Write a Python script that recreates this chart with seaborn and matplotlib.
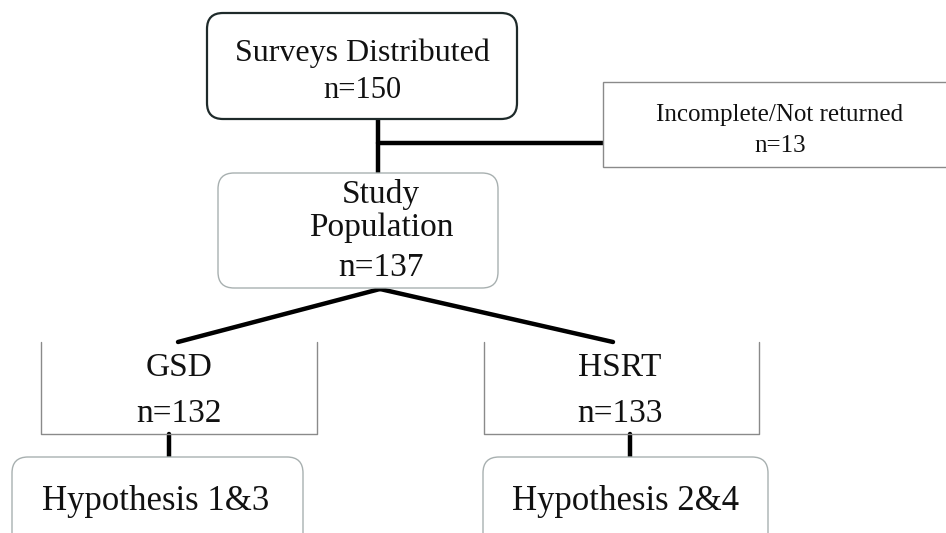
import matplotlib.pyplot as plt
import seaborn as sns
import pandas as pd
from matplotlib.patches import FancyBboxPatch

# node texts
node_names = ['surveys', 'incomplete', 'study', 'gsd', 'hsrt', 'hyp13', 'hyp24']
node_titles = ['Surveys Distributed', 'Incomplete/Not returned', 'Study\nPopulation',
               'GSD', 'HSRT', 'Hypothesis 1&3', 'Hypothesis 2&4']
node_counts = [150, 13, 137, 132, 133, None, None]

# layout (pixel coords, y down): x0, y0, x1, y1, kind
layout = {
    'surveys':    (207, 13, 517, 119, 'round_dark'),
    'incomplete': (603, 82, 960, 167, 'rect'),
    'study':      (218, 173, 498, 288, 'round'),
    'gsd':        (41, 342, 317, 434, 'open'),
    'hsrt':       (484, 342, 759, 434, 'open'),
    'hyp13':      (12, 457, 303, 560, 'round'),
    'hyp24':      (483, 457, 768, 560, 'round'),
}
# text positions: title y, count y, x, title size, count size
text_pos = {
    'surveys':    (53, 91, 362, 23, 22),
    'incomplete': (115, 146, 780, 18, 18),
    'study':      (211, 268, 381, 24, 24),
    'gsd':        (368, 414, 179, 24, 24),
    'hsrt':       (368, 414, 620, 24, 24),
    'hyp13':      (502, None, 156, 25, 25),
    'hyp24':      (502, None, 625, 25, 25),
}

# connectors
edges = pd.DataFrame({
    'edge': ['a', 'a', 'b', 'b', 'c', 'c', 'd', 'd', 'e', 'e', 'f', 'f'],
    'x': [378, 378, 378, 603, 380, 178, 380, 613, 169, 169, 630, 630],
    'y': [119, 173, 143, 143, 289, 342, 289, 342, 434, 457, 434, 457],
})

sns.set_theme(style='white')
plt.rcParams['font.family'] = ['Liberation Serif', 'DejaVu Serif']

fig = plt.figure(figsize=(9.46, 5.33), dpi=100)
ax = fig.add_axes([0, 0, 1, 1])
ax.set_xlim(0, 946)
ax.set_ylim(533, 0)
ax.axis('off')

sns.lineplot(data=edges, x='x', y='y', units='edge', estimator=None, sort=False,
             color='black', linewidth=3.2, ax=ax, legend=False)

for name in node_names:
    x0, y0, x1, y1, kind = layout[name]
    if kind.startswith('round'):
        ec = '#1e2a2a' if kind == 'round_dark' else '#a8b0b0'
        lw = 1.6 if kind == 'round_dark' else 1.0
        ax.add_patch(FancyBboxPatch((x0, y0), x1 - x0, y1 - y0,
                                    boxstyle='round,pad=0,rounding_size=16',
                                    fc='white', ec=ec, lw=lw, zorder=3))
    elif kind == 'rect':
        ax.add_patch(plt.Rectangle((x0, y0), x1 - x0, y1 - y0, fc='white',
                                   ec='#8a8a8a', lw=1.0, zorder=3))
    else:
        ax.plot([x0, x0, x1, x1], [y0, y1, y1, y0], color='#8a8a8a', lw=1.0, zorder=3)

for name, title, count in zip(node_names, node_titles, node_counts):
    ty, cy, tx, ts, cs = text_pos[name]
    ax.text(tx, ty, title, ha='center', va='center', fontsize=ts,
            color='#111111', linespacing=1.12, zorder=4)
    if count is not None:
        ax.text(tx, cy, f'n={count}', ha='center', va='center', fontsize=cs,
                color='#111111', zorder=4)

fig.savefig('out.png', dpi=100)
